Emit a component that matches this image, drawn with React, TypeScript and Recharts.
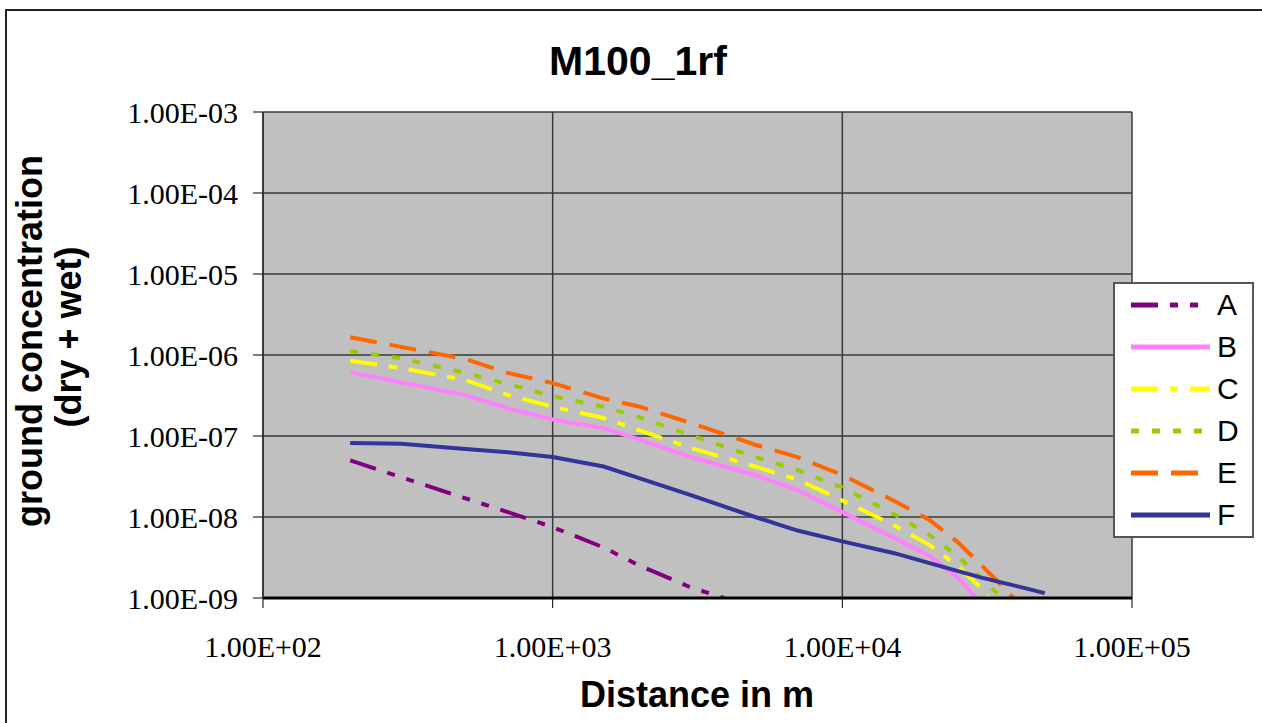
import React from 'react';
import { LineChart, Line, XAxis, YAxis, CartesianGrid, Legend } from 'recharts';

// distance (m) and ground concentration
const xA = [200, 300, 500, 700, 1000, 1500, 2000, 3000, 3900];
const yA = [5.0e-8, 3.1e-8, 1.7e-8, 1.15e-8, 7.5e-9, 4.2e-9, 2.5e-9, 1.35e-9, 1.0e-9];

const xB = [200, 300, 500, 700, 1000, 1500, 2000, 3000, 5000, 7000, 10000, 15000, 20000, 25000, 29000];
const yB = [6.1e-7, 4.6e-7, 3.2e-7, 2.2e-7, 1.6e-7, 1.25e-7, 9.0e-8, 5.5e-8, 3.3e-8, 2.15e-8, 1.15e-8, 5.6e-9, 3.3e-9, 1.8e-9, 1.0e-9];

const xC = [200, 300, 500, 700, 1000, 1500, 2000, 3000, 5000, 7000, 10000, 15000, 20000, 25000, 30000, 32000];
const yC = [8.5e-7, 6.9e-7, 4.9e-7, 3.2e-7, 2.3e-7, 1.67e-7, 1.17e-7, 7.1e-8, 4.2e-8, 2.9e-8, 1.6e-8, 8.0e-9, 4.5e-9, 2.5e-9, 1.35e-9, 1.0e-9];

const xD = [200, 300, 500, 700, 1000, 1500, 2000, 3000, 5000, 7000, 10000, 15000, 20000, 25000, 30000, 35600];
const yD = [1.12e-6, 9.1e-7, 6.0e-7, 4.4e-7, 3.1e-7, 2.3e-7, 1.7e-7, 1.02e-7, 5.5e-8, 3.8e-8, 2.3e-8, 1.1e-8, 6.0e-9, 3.3e-9, 1.8e-9, 1.0e-9];

const xE = [200, 300, 500, 700, 1000, 1500, 2000, 3000, 5000, 7000, 10000, 15000, 20000, 25000, 30000, 35000, 39000];
const yE = [1.66e-6, 1.26e-6, 8.9e-7, 6.0e-7, 4.5e-7, 2.9e-7, 2.3e-7, 1.45e-7, 7.8e-8, 5.5e-8, 3.3e-8, 1.6e-8, 9.2e-9, 4.9e-9, 2.6e-9, 1.5e-9, 1.0e-9];

const xF = [200, 300, 500, 700, 1000, 1500, 2000, 3000, 5000, 7000, 10000, 15000, 20000, 30000, 40000, 50000];
const yF = [8.2e-8, 8.0e-8, 6.9e-8, 6.3e-8, 5.5e-8, 4.2e-8, 3.0e-8, 1.86e-8, 1.0e-8, 6.8e-9, 5.0e-9, 3.6e-9, 2.7e-9, 1.8e-9, 1.4e-9, 1.15e-9];

const xTicks = [1e2, 1e3, 1e4, 1e5];
const yTicks = [1e-9, 1e-8, 1e-7, 1e-6, 1e-5, 1e-4, 1e-3];

const zip = (xs: number[], ys: number[]) => xs.map((x, i) => ({ x, y: ys[i] }));

const series = [
  { name: 'A', data: zip(xA, yA), color: '#800080', dash: '27 12 8 12 8 12' },
  { name: 'B', data: zip(xB, yB), color: '#FF80FF', dash: undefined },
  { name: 'C', data: zip(xC, yC), color: '#FFFF00', dash: '27 12 8 12' },
  { name: 'D', data: zip(xD, yD), color: '#99CC00', dash: '8 13' },
  { name: 'E', data: zip(xE, yE), color: '#FF6600', dash: '27 13' },
  { name: 'F', data: zip(xF, yF), color: '#333399', dash: undefined },
];

const sci = (v: number) => {
  const e = Math.round(Math.log10(v));
  return `1.00E${e < 0 ? '-' : '+'}${String(Math.abs(e)).padStart(2, '0')}`;
};

const serif = '"Liberation Serif", "Times New Roman", serif';
const sans = '"Liberation Sans", Arial, sans-serif';

const XTick: React.FC<any> = ({ x, y, payload }) => (
  <text x={x} y={y} dy="0.71em" textAnchor="middle" fontFamily={serif} fontSize={30} fill="#000">
    {sci(payload.value)}
  </text>
);

const YTick: React.FC<any> = ({ x, y, payload }) => (
  <text x={x} y={y} dy="0.355em" textAnchor="end" fontFamily={serif} fontSize={30} fill="#000">
    {sci(payload.value)}
  </text>
);

const LegendBox: React.FC<any> = () => (
  <div
    style={{
      width: 141,
      height: 256,
      boxSizing: 'border-box',
      background: '#fff',
      border: '2px solid #555',
    }}
  >
    {series.map((s) => (
      <div key={s.name} style={{ display: 'flex', alignItems: 'center', height: 42 }}>
        <svg width={86} height={12} style={{ marginLeft: 16 }}>
          <line x1={0} y1={6} x2={79} y2={6} stroke={s.color} strokeWidth={5} strokeDasharray={s.dash} />
        </svg>
        <span style={{ fontFamily: sans, fontSize: 30, lineHeight: '30px', color: '#000' }}>{s.name}</span>
      </div>
    ))}
  </div>
);

const App: React.FC = () => {
  return (
    <div style={{ position: 'fixed', left: 0, top: 0, width: 1262, height: 723, overflow: 'hidden', background: '#fff' }}>
      <div
        style={{
          position: 'absolute',
          left: 5,
          top: 9,
          width: 1320,
          height: 800,
          border: '2px solid #222',
          boxSizing: 'border-box',
        }}
      />
      <LineChart width={1262} height={723} margin={{ top: 112, right: 130, left: 0, bottom: 0 }}>
        <CartesianGrid fill="#C0C0C0" fillOpacity={1} stroke="#3a3a3a" strokeWidth={1.5} />
        <XAxis
          dataKey="x"
          type="number"
          scale="log"
          domain={[1e2, 1e5]}
          ticks={xTicks}
          allowDataOverflow
          height={125}
          tick={<XTick />}
          tickSize={10}
          tickMargin={28}
          axisLine={{ stroke: '#000', strokeWidth: 3 }}
          tickLine={{ stroke: '#000' }}
        />
        <YAxis
          dataKey="y"
          type="number"
          scale="log"
          domain={[1e-9, 1e-3]}
          ticks={yTicks}
          allowDataOverflow
          width={263}
          tick={<YTick />}
          tickSize={10}
          tickMargin={15}
          axisLine={{ stroke: '#3a3a3a', strokeWidth: 2 }}
          tickLine={{ stroke: '#000' }}
        />
        <Legend
          layout="vertical"
          align="center"
          verticalAlign="middle"
          content={<LegendBox />}
          wrapperStyle={{ left: 1113, top: 282, width: 141, height: 256 }}
        />
        {series.map((s) => (
          <Line
            key={s.name}
            name={s.name}
            data={s.data}
            dataKey="y"
            type="linear"
            stroke={s.color}
            strokeWidth={4}
            strokeDasharray={s.dash}
            dot={false}
            activeDot={false}
            isAnimationActive={false}
          />
        ))}
      </LineChart>
      <svg width={1262} height={723} style={{ position: 'absolute', left: 0, top: 0, pointerEvents: 'none' }}>
        <text x={638} y={75} textAnchor="middle" fontFamily={sans} fontWeight="bold" fontSize={41} fill="#000">
          M100_1rf
        </text>
        <text x={697} y={707} textAnchor="middle" fontFamily={sans} fontWeight="bold" fontSize={36} fill="#000">
          Distance in m
        </text>
        <text transform="translate(42,341) rotate(-90)" textAnchor="middle" fontFamily={sans} fontWeight="bold" fontSize={36} fill="#000">
          ground concentration
        </text>
        <text transform="translate(81,337) rotate(-90)" textAnchor="middle" fontFamily={sans} fontWeight="bold" fontSize={36} fill="#000">
          (dry + wet)
        </text>
      </svg>
    </div>
  );
};

export default App;
